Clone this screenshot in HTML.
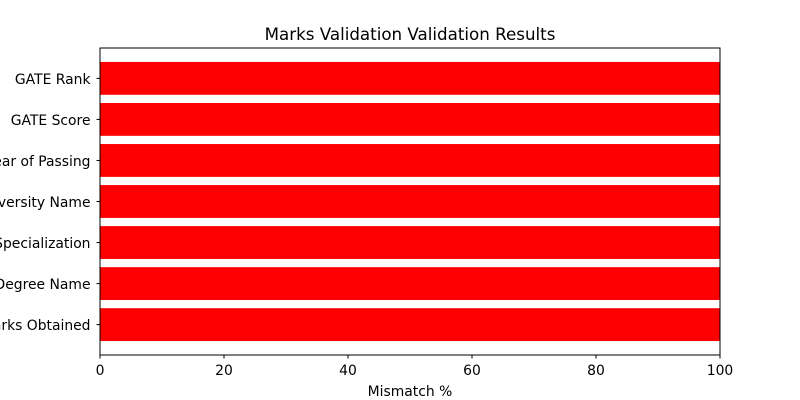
<!DOCTYPE html>
<html><head><meta charset="utf-8"><style>
html,body{margin:0;padding:0;background:#fff;}
svg{display:block;font-family:"DejaVu Sans","Liberation Sans",sans-serif;}
</style></head><body>
<svg id="chart" width="800" height="400" viewBox="0 0 800 400">
<rect width="800" height="400" fill="#fff"/>
<text x="410" y="40" font-size="16.7" text-anchor="middle" fill="#000">Marks Validation Validation Results</text>
<g id="bars"></g>
<g id="yticks"></g>
<g id="xticks"></g>
<rect x="100" y="48" width="620" height="307" fill="none" stroke="#000" stroke-width="1"/>
<text x="410" y="396" font-size="13.9" text-anchor="middle" fill="#000">Mismatch %</text>
</svg>
<script>
const categories = ["Marks Obtained","Degree Name","Specialization","University Name","Year of Passing","GATE Score","GATE Rank"];
const values = [100,100,100,100,100,100,100];
const xTicks = [0,20,40,60,80,100];

const NS="http://www.w3.org/2000/svg";
const L=100,R=720,T=48,B=355;
const xMin=0,xMax=100;
const yMin=-0.74,yMax=categories.length-1+0.74;
const xs=v=>L+(v-xMin)/(xMax-xMin)*(R-L);
const ys=v=>B-(v-yMin)/(yMax-yMin)*(B-T);
const mk=(t,a)=>{const e=document.createElementNS(NS,t);for(const k in a)e.setAttribute(k,a[k]);return e;};
const gb=document.getElementById('bars'),gy=document.getElementById('yticks'),gx=document.getElementById('xticks');
categories.forEach((c,i)=>{
  const top=ys(i+0.4),bot=ys(i-0.4);
  const r=mk('rect',{x:xs(0),y:top,width:xs(values[i])-xs(0),height:bot-top,fill:'#ff0000'});
  
  
  gb.appendChild(r);
  const yc=ys(i);
  const tk=mk('line',{x1:L-3.5,x2:L,y1:yc,y2:yc,stroke:'#000'});
  
  
  gy.appendChild(tk);
  const t=mk('text',{x:L-9.5,y:yc+5.5,'font-size':'13.9','text-anchor':'end',fill:'#000'});
  t.textContent=c;
  
  
  gy.appendChild(t);
});
xTicks.forEach(v=>{
  const x=xs(v);
  const tk=mk('line',{x1:x,x2:x,y1:B,y2:B+3.5,stroke:'#000'});
  
  
  gx.appendChild(tk);
  const t=mk('text',{x:x,y:B+20,'font-size':'13.9','text-anchor':'middle',fill:'#000'});
  t.textContent=v;
  
  
  gx.appendChild(t);
});
</script>
</body></html>
